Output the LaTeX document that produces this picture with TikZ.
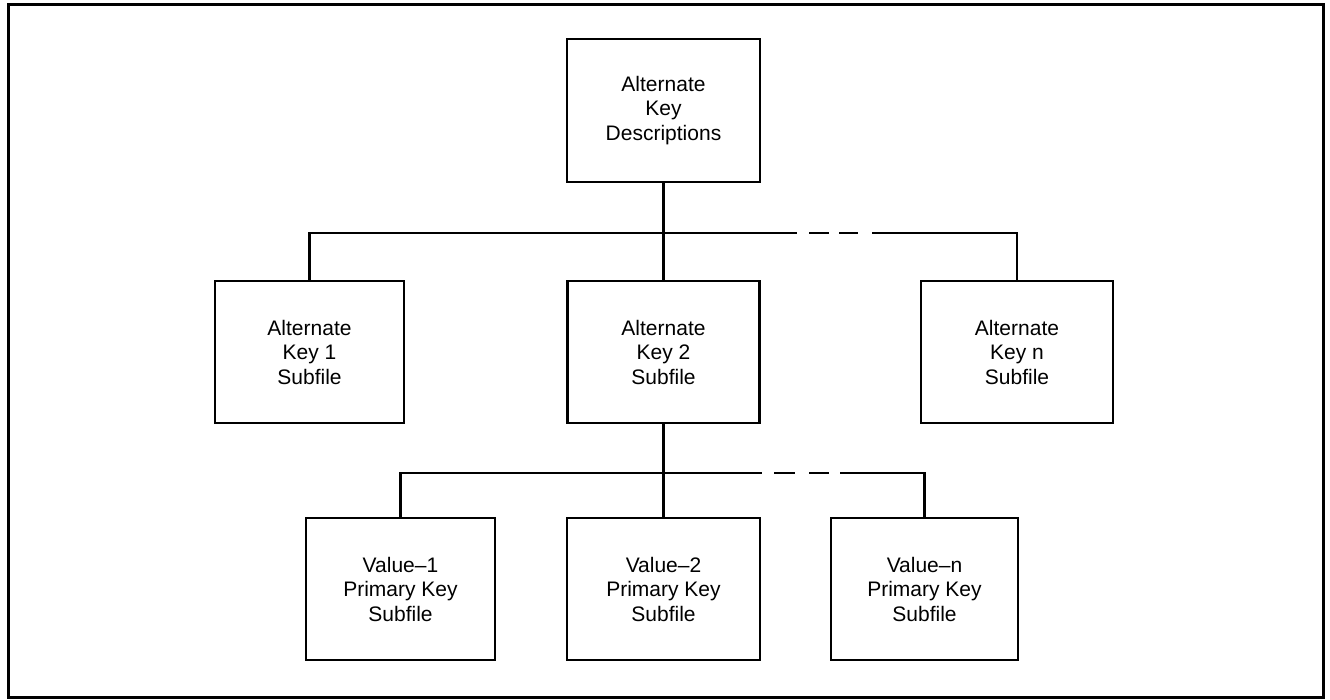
\documentclass[tikz,border=0pt]{standalone}
\usepackage{fontspec}
\setmainfont{Liberation Sans}
\begin{document}
\begin{tikzpicture}[x=1pt,y=-1pt,
  box/.style={draw, line width=2.8pt, inner sep=0pt, align=center,
    font=\fontsize{21}{24.5}\selectfont},
  upper/.style={box, minimum height=143pt},
  lower/.style={box, minimum height=142pt},
  wire/.style={line width=2.8pt},
  topgap/.style={wire, dash pattern=on 0pt off 12pt on 20pt off 10pt on 19pt off 14pt},
  lowgap/.style={wire, dash pattern=on 0pt off 12pt on 21pt off 14pt on 20pt off 11pt}]
\useasboundingbox (0,0) rectangle (1330,700);
% outer frame
\draw[line width=3pt] (8,5) rectangle (1323,697);

% root
\node[upper, minimum width=193pt] (top) at (663.5,110.5) {Alternate\\Key\\Descriptions};

% alternate key subfiles
\node[lower, minimum width=189pt] (k1) at (309.5,352) {Alternate\\Key 1\\Subfile};
\node[lower, minimum width=192pt] (k2) at (663.5,352) {Alternate\\Key 2\\Subfile};
\node[lower, minimum width=192pt] (kn) at (1017,352) {Alternate\\Key n\\Subfile};

% primary key subfiles
\node[lower, minimum width=189pt] (v1) at (400.5,589) {Value–1\\Primary Key\\Subfile};
\node[lower, minimum width=193pt] (v2) at (663.5,589) {Value–2\\Primary Key\\Subfile};
\node[lower, minimum width=187pt] (vn) at (924.5,589) {Value–n\\Primary Key\\Subfile};

% upper bus
\coordinate (ba) at (797,233);
\coordinate (bb) at (872,233);
\draw[wire] (top.south) -- (k2.north);
\draw[wire] (k1.north) |- (ba);
\draw[topgap] (ba) -- (bb);
\draw[wire] (bb) -| (kn.north);

% lower bus
\coordinate (ca) at (762,473);
\coordinate (cb) at (840,473);
\draw[wire] (k2.south) -- (v2.north);
\draw[wire] (v1.north) |- (ca);
\draw[lowgap] (ca) -- (cb);
\draw[wire] (cb) -| (vn.north);
\end{tikzpicture}
\end{document}
